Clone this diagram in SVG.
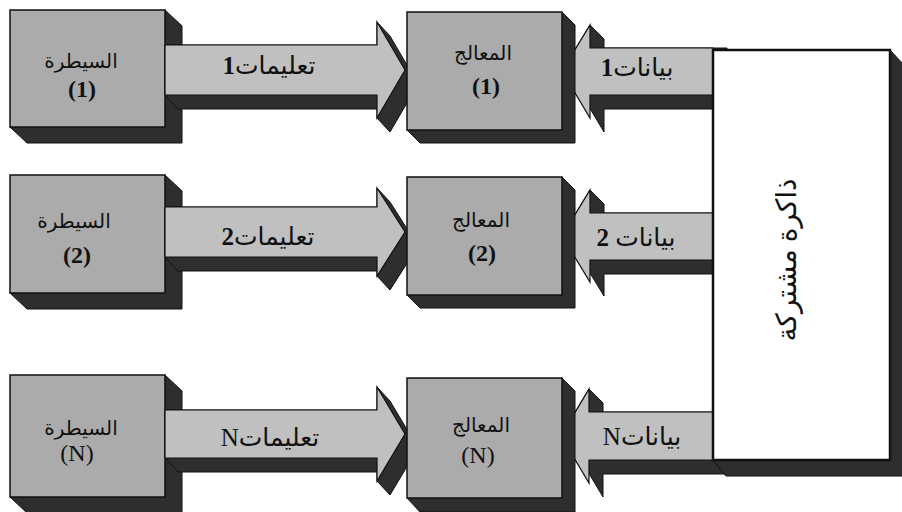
<svg xmlns="http://www.w3.org/2000/svg" width="902" height="512" viewBox="0 0 902 512">
<style>
.face{fill:#ababab;stroke:#111;stroke-width:1.5}
.side{fill:#2e2e2e;stroke:#111;stroke-width:1}
.afront{fill:#c0c0c0;stroke:#111;stroke-width:1.2}
.mem{fill:#fff;stroke:#111;stroke-width:2.5}
.t{font-family:"Liberation Serif","DejaVu Sans",serif;font-size:20px;fill:#111;text-anchor:middle}
.p{font-size:24px}
.a{font-size:25px}
.m{font-size:28px}
.b{font-weight:bold}
</style>
<rect width="902" height="512" fill="#fff"/>

<!-- Controllers -->
<g id="ctrl1">
<polygon class="side" points="165,10 182,26 182,143 27,143 10,127"/>
<rect class="face" x="10" y="10" width="155" height="117"/>
<text class="t" x="81" y="68" direction="rtl">السيطرة</text>
<text class="t p b" x="82" y="97">(1)</text>
</g>
<g id="ctrl2">
<polygon class="side" points="165,175 182,191 182,309 27,309 10,293"/>
<rect class="face" x="10" y="175" width="155" height="118"/>
<text class="t" x="74" y="228" direction="rtl">السيطرة</text>
<text class="t p b" x="77" y="263">(2)</text>
</g>
<g id="ctrlN">
<polygon class="side" points="165,375 182,391 182,513 27,513 10,497"/>
<rect class="face" x="10" y="375" width="155" height="122"/>
<text class="t" x="81" y="435" direction="rtl">السيطرة</text>
<text class="t p" x="77" y="461">(N)</text>
</g>

<!-- Connectors -->
<g id="connectors">
<!-- instructions 1 -->
<polygon class="side" points="165,45 377,45 377,22 390,36 418,84 390,132 377,118 377,109 178,109 165,95"/>
<polygon class="afront" points="165,45 377,45 377,22 405,70 377,118 377,95 165,95"/>
<text class="t a" x="269" y="74" direction="rtl">تعليمات<tspan class="b">1</tspan></text>
<!-- instructions 2 -->
<polygon class="side" points="165,207 377,207 377,188 390,202 418,246 390,290 377,276 377,271 178,271 165,257"/>
<polygon class="afront" points="165,207 377,207 377,188 405,232 377,276 377,257 165,257"/>
<text class="t a" x="268" y="245" direction="rtl">تعليمات<tspan class="b">2</tspan></text>
<!-- instructions N -->
<polygon class="side" points="165,410 377,410 377,387 390,401 418,448 390,495 377,481 377,472 178,472 165,458"/>
<polygon class="afront" points="165,410 377,410 377,387 405,434 377,481 377,458 165,458"/>
<text class="t a" x="270" y="446" direction="rtl">تعليماتN</text>

<!-- data 1 -->
<polygon class="side" points="562,71 590,25 604,39 604,48 727,48 727,109 604,109 604,132 576,85"/>
<polygon class="afront" points="713,48 590,48 590,25 562,71 590,118 590,95 713,95"/>
<text class="t a" x="637" y="76" direction="rtl">بيانات<tspan class="b">1</tspan></text>
<!-- data 2 -->
<polygon class="side" points="562,236 590,190 604,204 604,213 727,213 727,274 604,274 604,296 576,250"/>
<polygon class="afront" points="713,213 590,213 590,190 562,236 590,282 590,260 713,260"/>
<text class="t a" x="636" y="246" direction="rtl">بيانات <tspan class="b">2</tspan></text>
<!-- data N -->
<polygon class="side" points="561,436 589,389 603,403 603,412 727,412 727,474 603,474 603,497 575,450"/>
<polygon class="afront" points="713,412 589,412 589,389 561,436 589,483 589,460 713,460"/>
<text class="t a" x="642" y="445" direction="rtl">بياناتN</text>
</g>

<!-- Processors -->
<g id="proc1">
<polygon class="side" points="562,12 575,25 575,143 420,143 407,130"/>
<rect class="face" x="407" y="12" width="155" height="118"/>
<text class="t" x="483" y="60" direction="rtl">المعالج</text>
<text class="t p b" x="486" y="94">(1)</text>
</g>
<g id="proc2">
<polygon class="side" points="562,177 575,190 575,308 420,308 407,295"/>
<rect class="face" x="407" y="177" width="155" height="118"/>
<text class="t" x="481" y="227" direction="rtl">المعالج</text>
<text class="t p b" x="482" y="261">(2)</text>
</g>
<g id="procN">
<polygon class="side" points="562,378 575,391 575,512 420,512 407,498"/>
<rect class="face" x="407" y="378" width="155" height="120"/>
<text class="t" x="481" y="432" direction="rtl">المعالج</text>
<text class="t p" x="478" y="463">(N)</text>
</g>

<!-- Shared memory -->
<g id="memory">
<polygon class="side" points="890,50 903,64 903,476 726,476 713,460"/>
<rect class="mem" x="713" y="50" width="177" height="410"/>
<text class="t m" x="0" y="0" direction="rtl" transform="translate(796,260) rotate(-90)">ذاكرة مشتركة</text>
</g>
</svg>
